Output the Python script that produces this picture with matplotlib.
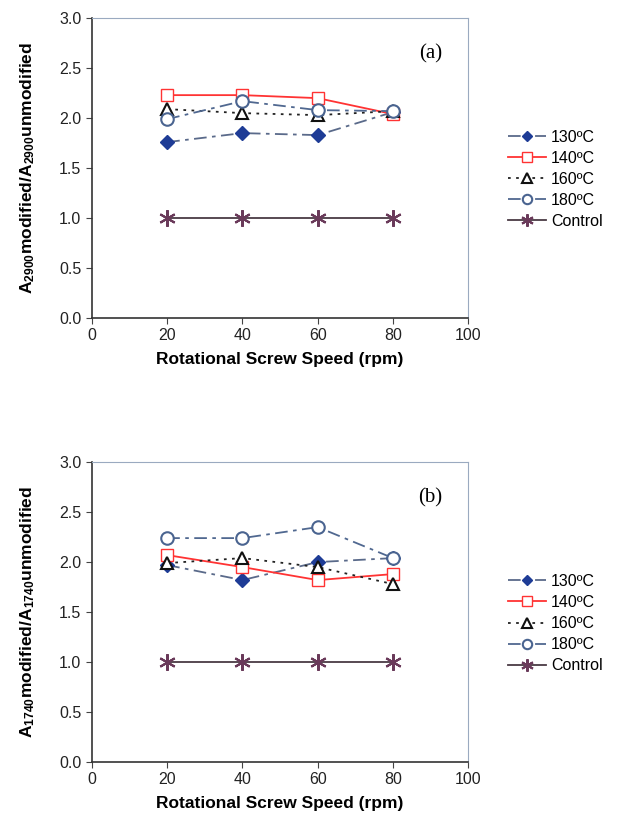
import matplotlib
matplotlib.use("Agg")
import matplotlib.pyplot as plt

plt.rcParams['font.family'] = ['Liberation Sans', 'DejaVu Sans']
plt.rcParams['mathtext.default'] = 'regular'

speed = [20, 40, 60, 80]
labels = ["130ºC", "140ºC", "160ºC", "180ºC", "Control"]

a_130 = [1.76, 1.85, 1.83, 2.06]
a_140 = [2.23, 2.23, 2.20, 2.04]
a_160 = [2.09, 2.05, 2.03, 2.07]
a_180 = [1.99, 2.17, 2.08, 2.07]
a_ctrl = [1.0, 1.0, 1.0, 1.0]

b_130 = [1.97, 1.82, 2.00, 2.04]
b_140 = [2.07, 1.95, 1.82, 1.88]
b_160 = [1.99, 2.04, 1.95, 1.78]
b_180 = [2.24, 2.24, 2.35, 2.04]
b_ctrl = [1.0, 1.0, 1.0, 1.0]

styles = [
    dict(color="#5a6a8a", ls=(0, (7, 3, 2, 3)), marker="D", ms=7, mfc="#1e3c96", mec="#1e3c96"),
    dict(color="#ff3333", ls="-", marker="s", ms=9, mfc="white", mec="#ff3333"),
    dict(color="#222222", ls=(0, (1.5, 3)), marker="^", ms=9, mfc="white", mec="#111111", mew=1.5),
    dict(color="#506890", ls=(0, (7, 3, 2, 3)), marker="o", ms=9, mfc="white", mec="#4a6490", mew=1.5),
    dict(color="#4a3a44", ls="-", marker=(6, 2, 0), ms=12, mec="#6a3a5a", mew=1.5),
]

fig = plt.figure(figsize=(6.21, 8.26), dpi=100)


def panel(rect, series, ylabel, tag, legend_y):
    ax = fig.add_axes(rect)
    handles = []
    for ys, st, lab in zip(series, styles, labels):
        h, = ax.plot(speed, ys, lw=1.3, label=lab, **st)
        handles.append(h)
    ax.set_xlim(0, 100)
    ax.set_ylim(0, 3.0)
    ax.set_xticks(range(0, 101, 20))
    ax.set_yticks([0, 0.5, 1.0, 1.5, 2.0, 2.5, 3.0])
    ax.set_yticklabels([f"{v:.1f}" for v in ax.get_yticks()])
    ax.tick_params(labelsize=11.5, length=4, color="#444444", labelcolor="#222222")
    for s in ["left", "bottom"]:
        ax.spines[s].set_color("#333333")
        ax.spines[s].set_linewidth(1.2)
    for s in ["top", "right"]:
        ax.spines[s].set_color("#9aaac0")
        ax.spines[s].set_linewidth(0.8)
    ax.set_xlabel("Rotational Screw Speed (rpm)", fontsize=12.5, fontweight="bold", labelpad=6)
    ax.set_ylabel(ylabel, fontsize=12.5, fontweight="bold", labelpad=16)
    ax.text(0.93, 0.88, tag, transform=ax.transAxes, fontsize=15,
            family="Liberation Serif", ha="right", va="center")
    fig.legend(handles=handles, loc="center left", bbox_to_anchor=(0.795, legend_y),
               frameon=False, fontsize=11.5, handlelength=2.4, labelspacing=0.38,
               handletextpad=0.3, markerscale=0.75)
    return ax


panel([0.148, 0.615, 0.606, 0.363], [a_130, a_140, a_160, a_180, a_ctrl],
      r"A$_{2900}$modified/A$_{2900}$unmodified", "(a)", 0.783)
panel([0.148, 0.0775, 0.606, 0.363], [b_130, b_140, b_160, b_180, b_ctrl],
      r"A$_{1740}$modified/A$_{1740}$unmodified", "(b)", 0.245)

fig.savefig("out.png", dpi=100)
